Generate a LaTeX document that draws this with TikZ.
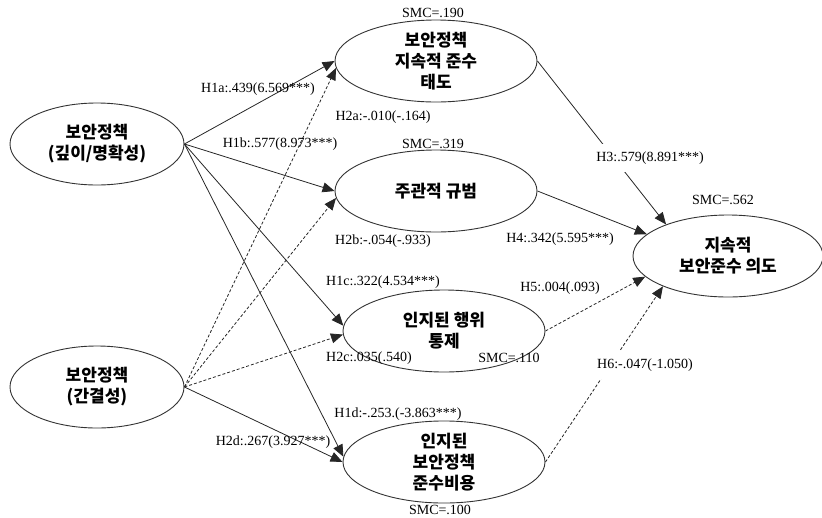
\documentclass[tikz,border=0pt]{standalone}
\usepackage{fontspec}
\setmainfont{Liberation Serif}
\newfontfamily\kr{Noto Sans CJK KR}
\usetikzlibrary{shapes.geometric,arrows.meta}
\begin{document}
\begin{tikzpicture}[x=1pt,y=-1pt,
  latent/.style={ellipse,draw=black!80,line width=0.9pt,inner sep=0pt,
    minimum width=202pt,minimum height=82pt,align=center,
    font=\kr\bfseries\fontsize{17}{21}\selectfont},
  arr/.style={draw=black!85,line width=0.8pt,-{Triangle[length=12pt,width=10pt]}},
  darr/.style={arr,dash pattern=on 3pt off 2pt},
  lbl/.style={font=\fontsize{14}{16}\selectfont,inner sep=1pt},
  cut/.style={lbl,fill=white,inner ysep=8pt},
]
\useasboundingbox (0,0) rectangle (822,517);
% latent variables
\node[latent,minimum width=174pt] (a) at (97,144) {보안정책\\(깊이/명확성)};
\node[latent,minimum width=174pt] (b) at (97,387) {보안정책\\(간결성)};
\node[latent] (t1) at (436,61) {보안정책\\지속적 준수\\태도};
\node[latent] (t2) at (436,191) {주관적 규범};
\node[latent] (t3) at (444,331) {인지된 행위\\통제};
\node[latent] (t4) at (444,462) {인지된\\보안정책\\준수비용};
\node[latent,minimum width=190pt] (o) at (728,256) {지속적\\보안준수 의도};
% paths from a
\draw[arr] (a.east) -- (t1.west);
\draw[arr] (a.east) -- (t2.west);
\draw[arr] (a.east) -- (t3.177);
\draw[arr] (a.east) -- (t4.177);
% paths from b
\draw[darr] (b.east) -- (t1.184);
\draw[darr] (b.east) -- (t2.184);
\draw[darr] (b.east) -- (t3.182);
\draw[arr] (b.east) -- (t4.west);
% paths to o
\draw[arr] (t1.east) -- (o.153);
\draw[arr] (t2.east) -- (o.165);
\draw[darr] (t3.east) -- (o.194);
\draw[darr] (t4.east) -- (o.205);
% labels
\node[lbl] (l1a) at (258,89) {H1a:.439(6.569***)};
\node[lbl] (l1b) at (280,144) {H1b:.577(8.973***)};
\node[lbl] (l2a) at (383,117) {H2a:-.010(-.164)};
\node[lbl] (s1) at (433,13) {SMC=.190};
\node[lbl] (s2) at (433,144) {SMC=.319};
\node[lbl] (l2b) at (383,241) {H2b:-.054(-.933)};
\node[lbl] (l1c) at (383,282) {H1c:.322(4.534***)};
\node[lbl] (l2c) at (369,358) {H2c:.035(.540)};
\node[lbl] (s3) at (509,358) {SMC=.110};
\node[lbl] (l1d) at (398,414) {H1d:-.253.(-3.863***)};
\node[lbl] (l2d) at (273,442) {H2d:.267(3.927***)};
\node[lbl] (s4) at (440,510) {SMC=.100};
\node[lbl] (s5) at (723,200) {SMC=.562};
\node[cut] (l3) at (650,158) {H3:.579(8.891***)};
\node[lbl] (l4) at (560,239) {H4:.342(5.595***)};
\node[lbl] (l5) at (560,288) {H5:.004(.093)};
\node[cut] (l6) at (645,365) {H6:-.047(-1.050)};
\end{tikzpicture}
\end{document}
